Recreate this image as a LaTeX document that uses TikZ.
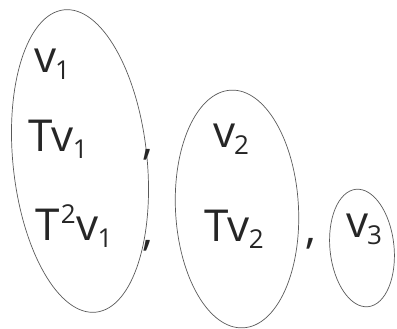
\documentclass[tikz,border=0pt]{standalone}
\usepackage{fontspec}
\setmainfont{Open Sans}
\usetikzlibrary{shapes.geometric}
\tikzset{
  loop/.style={ellipse, draw=black!65, line width=0.7pt, inner sep=0pt},
  term/.style={inner sep=0pt, font=\fontsize{44}{50}\selectfont, text=black!85},
  sep/.style={inner sep=0pt, font=\fontsize{44}{50}\selectfont, text=black!85}
}
\newcommand{\sub}[1]{\kern-1pt\raisebox{-7pt}{\fontsize{26}{30}\selectfont #1}}
\newcommand{\sqr}{\kern1pt\raisebox{17pt}{\fontsize{26}{30}\selectfont 2}\kern1pt}
\begin{document}
\begin{tikzpicture}[x=1pt,y=-1pt]
  \useasboundingbox (0,0) rectangle (397,329);
  % cycles
  \node[loop, minimum width=134pt, minimum height=304pt, rotate=6] (c1) at (80,161) {};
  \node[loop, minimum width=123pt, minimum height=238pt, rotate=3] (c2) at (237,209) {};
  \node[loop, minimum width=64pt, minimum height=118pt, rotate=6] (c3) at (362,248) {};
  % vectors in the first cycle
  \node[term] (a1) at (52,64) {v\sub{1}};
  \node[term] (a2) at (58,139) {Tv\sub{1}};
  \node[term] (a3) at (74,226) {T\sqr v\sub{1}};
  % second cycle
  \node[term] (b1) at (231,139) {v\sub{2}};
  \node[term] (b2) at (234,229) {Tv\sub{2}};
  % third cycle
  \node[term] (d1) at (364,229) {v\sub{3}};
  % separators
  \node[sep] (s1) at (148,155) {,};
  \node[sep] (s2) at (148,246) {,};
  \node[sep] (s3) at (311,244) {,};
\end{tikzpicture}
\end{document}
